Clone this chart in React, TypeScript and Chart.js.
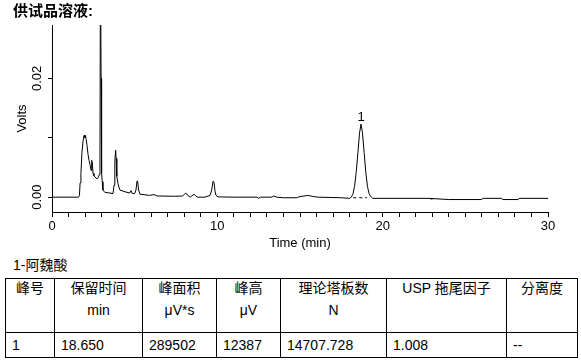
import React, { useEffect, useRef } from "react";
import { Chart, registerables } from "chart.js";

Chart.register(...registerables);

// ---- data ----
const timeMin = [
  0, 1.6, 1.66, 1.7, 1.75, 1.81, 1.88, 1.94, 1.98, 2.02, 2.07, 2.12, 2.18, 2.24, 2.3, 2.36, 2.4, 2.44, 2.48,
  2.54, 2.6, 2.72, 2.8, 2.86, 2.9, 2.93, 2.95, 2.97, 3.0, 3.04, 3.08, 3.2, 3.5, 3.69, 3.75, 3.8, 3.85, 3.88,
  3.92, 3.99, 4.05, 4.11, 4.42, 4.7, 4.78, 4.86, 5.0, 5.08, 5.14, 5.18, 5.24, 5.32, 5.9, 6.1, 6.23, 6.35,
  7.4, 7.9, 8.09, 8.25, 8.35, 8.6, 8.77, 9.25, 9.56, 9.66, 9.74, 9.8, 9.86, 9.92, 10.04, 11.0, 12.4, 12.5,
  12.6, 13.3, 13.4, 13.6, 14.0, 14.8, 15.0, 15.5, 15.8, 16.1, 17.5, 18.0, 18.1, 18.2, 18.3, 18.4, 18.5, 18.6,
  18.69, 18.78, 18.88, 18.98, 19.08, 19.18, 19.28, 19.4, 22.8, 24.0, 26.0, 26.05, 27.2, 27.25, 28.2, 28.25, 30,
];
const volts = [
  0, 0, 0.0003, 0.0024, 0.004, 0.0075, 0.0095, 0.0104, 0.01, 0.0104, 0.0097, 0.0087, 0.0072, 0.0062, 0.0055,
  0.0045, 0.0062, 0.0058, 0.004, 0.0036, 0.0034, 0.0031, 0.0033, 0.0038, 0.0045, 0.04, 0.04, 0.02, 0.004,
  0.0026, 0.0012, 0.0008, 0.0007, 0.0006, 0.002, 0.006, 0.0079, 0.0065, 0.0035, 0.0023, 0.0017, 0.0012,
  0.0009, 0.0007, 0.0011, 0.0006, 0.0006, 0.0012, 0.0027, 0.0027, 0.0012, 0.0005, 0.0003, 0.0004, 0.0004,
  0.0002, 0.00015, 0.0002, 0.0007, 0.0002, 0.0, 0.0005, 0.0, 0.0, 0.0003, 0.0012, 0.0027, 0.0025, 0.001,
  0.0003, 0.00005, 0.0, 0.0, -0.0002, 0.0, 0.0, 0.0002, 0.0, -0.0001, -0.0001, 0.0001, 0.0003, 0.0001, 0.0,
  -0.0001, -0.0002, 0.0, 0.0005, 0.0018, 0.0042, 0.0074, 0.0108, 0.0123, 0.0108, 0.0075, 0.0042, 0.0018,
  0.0006, 0.0001, -0.0002, -0.0002, -0.0004, -0.0004, -0.0002, -0.0002, -0.0004, -0.0004, -0.0002, -0.0002,
];
// integration baselines (dashed)
const baseTimes1 = [18.22, 19.05];
const baseVolts1 = [-0.0001, -0.0001];
const baseTimes2 = [22.9, 23.15];
const baseVolts2 = [-0.0003, -0.0003];

const peakLabels = ["1"];
const peakTimes = [18.69];
const peakHeights = [0.0123];

const xTickLabels = [0, 10, 20, 30];
const yTickValues = [0, 0.01, 0.02];
const yTickLabels = ["0.00", "", "0.02"];

const tableTitle = "1-阿魏酸";
const headerLine1 = ["峰号", "保留时间", "峰面积", "峰高", "理论塔板数", "USP 拖尾因子", "分离度"];
const headerLine2 = ["", "min", "μV*s", "μV", "N", "", ""];
const rowValues = ["1", "18.650", "289502", "12387", "14707.728", "1.008", "--"];
const colWidths = [49, 88, 74, 64, 106, 120, 71];

const FONT = '"Liberation Sans", Arial, "Noto Sans CJK SC", sans-serif';

const textPlugin = {
  id: "textPlugin",
  afterDraw(chart: any) {
    const { ctx, scales, chartArea } = chart;
    const x = scales.x;
    const y = scales.y;
    ctx.save();
    ctx.fillStyle = "#000";
    ctx.font = "13px " + FONT;
    ctx.textAlign = "center";
    ctx.textBaseline = "middle";
    yTickValues.forEach((v, i) => {
      if (!yTickLabels[i]) return;
      const py = y.getPixelForValue(v);
      ctx.save();
      ctx.translate(y.right - 15, py);
      ctx.rotate(-Math.PI / 2);
      ctx.fillText(yTickLabels[i], 0, 0);
      ctx.restore();
    });
    ctx.save();
    ctx.translate(y.right - 30, (chartArea.top + chartArea.bottom) / 2);
    ctx.rotate(-Math.PI / 2);
    ctx.fillText("Volts", 0, 0);
    ctx.restore();
    ctx.textBaseline = "alphabetic";
    peakLabels.forEach((lab, i) => {
      const px = x.getPixelForValue(peakTimes[i]);
      const py = y.getPixelForValue(peakHeights[i]);
      ctx.fillText(lab, px, py - 3);
    });
    ctx.restore();
  },
};

function ChromChart() {
  const ref = useRef<HTMLCanvasElement | null>(null);
  useEffect(() => {
    const canvas = ref.current!;
    const chart = new Chart(canvas, {
      type: "line",
      data: {
        datasets: [
          {
            data: timeMin.map((t, i) => ({ x: t, y: volts[i] })),
            borderColor: "#000",
            borderWidth: 1,
            pointRadius: 0,
            tension: 0,
            fill: false,
          },
          {
            data: baseTimes1.map((t, i) => ({ x: t, y: baseVolts1[i] })),
            borderColor: "#000",
            borderWidth: 1,
            borderDash: [3, 3],
            pointRadius: 0,
            fill: false,
          },
          {
            data: baseTimes2.map((t, i) => ({ x: t, y: baseVolts2[i] })),
            borderColor: "#000",
            borderWidth: 1,
            borderDash: [2, 2],
            pointRadius: 0,
            fill: false,
          },
        ],
      },
      options: {
        animation: false,
        responsive: false,
        events: [],
        layout: { padding: { left: 0, right: 33, top: 25, bottom: 0 } },
        plugins: { legend: { display: false }, tooltip: { enabled: false } },
        scales: {
          x: {
            type: "linear",
            min: 0,
            max: 30,
            afterBuildTicks: (s: any) => {
              const arr = [];
              for (let v = 0; v <= 30; v++) arr.push({ value: v });
              s.ticks = arr;
            },
            afterFit: (s: any) => {
              s.height = 43;
            },
            ticks: {
              autoSkip: false,
              maxRotation: 0,
              minRotation: 0,
              padding: 2,
              color: "#000",
              font: { family: FONT, size: 13 },
              callback: (v: any) => (xTickLabels.includes(Number(v)) ? String(v) : ""),
            },
            grid: { drawOnChartArea: false, drawTicks: true, tickLength: 5, color: "#000" },
            border: { color: "#000", width: 1 },
            title: {
              display: true,
              text: "Time (min)",
              color: "#000",
              font: { family: FONT, size: 13 },
              padding: { top: 0, bottom: 4 },
            },
          },
          y: {
            type: "linear",
            min: -0.0025,
            max: 0.029,
            afterBuildTicks: (s: any) => {
              s.ticks = yTickValues.map((v) => ({ value: v }));
            },
            afterFit: (s: any) => {
              s.width = 52;
            },
            ticks: { display: false },
            grid: { drawOnChartArea: false, drawTicks: true, tickLength: 4, color: "#000" },
            border: { color: "#000", width: 1 },
          },
        },
      },
      plugins: [textPlugin],
    });
    return () => chart.destroy();
  }, []);
  return (
    <canvas
      ref={ref}
      width={581}
      height={255}
      style={{ position: "absolute", left: 0, top: 0, width: 581, height: 255 }}
    />
  );
}

export default function App() {
  const cellBorder = "1px solid #000";
  return (
    <div
      style={{
        position: "absolute",
        left: 0,
        top: 0,
        width: 581,
        height: 362,
        background: "#fff",
        fontFamily: FONT,
        color: "#000",
        overflow: "hidden",
      }}
    >
      <ChromChart />
      <div style={{ position: "absolute", left: 13, top: 1, fontSize: 15, fontWeight: "bold", lineHeight: "20px" }}>
        供试品溶液:
      </div>
      <div style={{ position: "absolute", left: 13, top: 256, fontSize: 14, lineHeight: "18px" }}>{tableTitle}</div>
      <table
        style={{
          position: "absolute",
          left: 5,
          top: 278,
          borderCollapse: "collapse",
          tableLayout: "fixed",
          fontSize: 14,
        }}
      >
        <colgroup>
          {colWidths.map((w, i) => (
            <col key={i} style={{ width: w }} />
          ))}
        </colgroup>
        <tbody>
          <tr style={{ height: 54 }}>
            {headerLine1.map((h, i) => (
              <td
                key={i}
                style={{ border: cellBorder, verticalAlign: "top", textAlign: "center", padding: 0, lineHeight: "22px" }}
              >
                <div style={{ position: "relative", top: -2 }}>
                  <div>{h}</div>
                  <div>{headerLine2[i] || "\u00a0"}</div>
                </div>
              </td>
            ))}
          </tr>
          <tr style={{ height: 25 }}>
            {rowValues.map((v, i) => (
              <td
                key={i}
                style={{ border: cellBorder, padding: "0 0 0 6px", textAlign: "left", verticalAlign: "middle", lineHeight: "20px" }}
              >
                {v}
              </td>
            ))}
          </tr>
        </tbody>
      </table>
    </div>
  );
}
